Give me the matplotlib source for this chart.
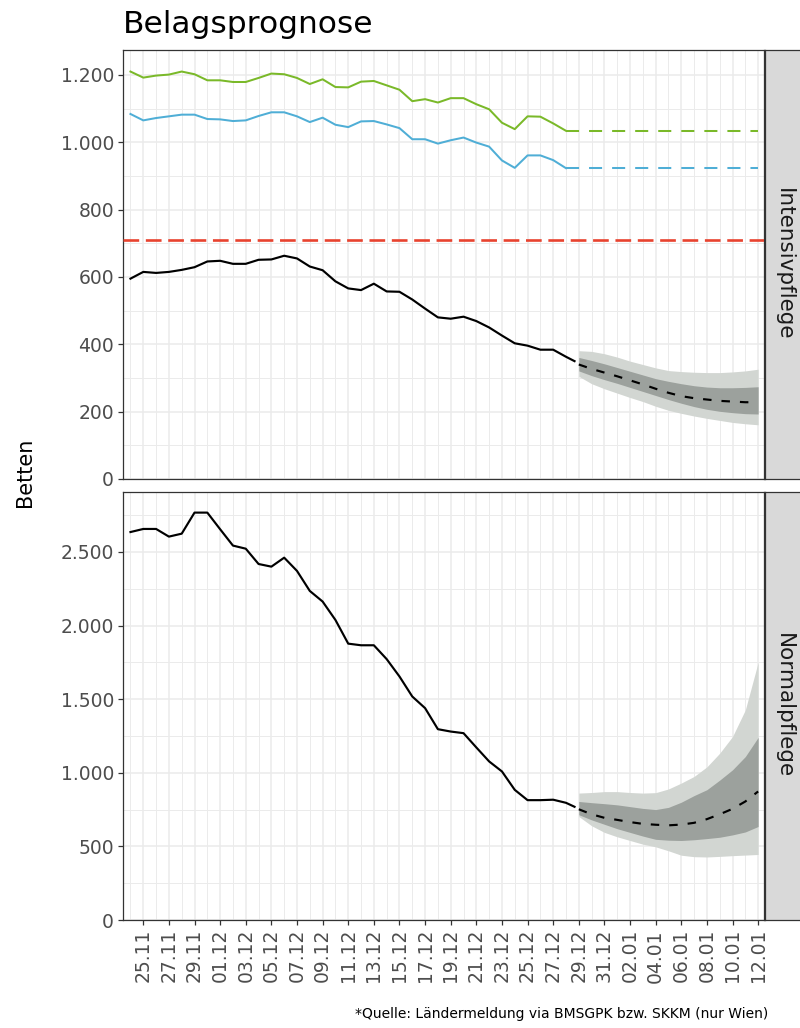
import matplotlib
matplotlib.use("Agg")
import matplotlib.pyplot as plt
import matplotlib.dates as mdates
import matplotlib.ticker as mticker
import pandas as pd
import numpy as np

plt.rcParams['font.family'] = ['DejaVu Sans']
plt.rcParams['lines.scale_dashes'] = False

# ---------------- data ----------------
obs_dates = pd.date_range('2021-11-24', '2021-12-28', freq='D')
fc_dates = pd.date_range('2021-12-29', '2022-01-12', freq='D')
black_last_time = pd.Timestamp('2021-12-28 16:00')
cap_end = pd.Timestamp('2022-01-12')

icu_obs = [595, 615, 612, 615, 621, 629, 646, 648, 639, 639, 651, 652, 663, 655,
           631, 620, 587, 566, 561, 580, 557, 556, 533, 506, 480, 476, 482, 469,
           450, 426, 403, 396, 384, 384, 363]
icu_last = 350

icu_cap_green = [1210, 1192, 1198, 1201, 1210, 1202, 1184, 1184, 1179, 1179, 1191,
                 1204, 1202, 1191, 1173, 1187, 1164, 1163, 1180, 1182, 1169, 1156,
                 1122, 1128, 1118, 1131, 1131, 1113, 1098, 1058, 1039, 1077, 1076,
                 1056, 1034]
icu_cap_blue = [1084, 1065, 1072, 1077, 1082, 1082, 1069, 1068, 1063, 1065, 1078,
                1089, 1089, 1077, 1060, 1073, 1052, 1045, 1062, 1063, 1053, 1042,
                1009, 1009, 996, 1006, 1014, 999, 987, 946, 924, 961, 961, 947, 923]
icu_threshold = 709

icu_med = [340, 327, 316, 305, 293, 281, 268, 256, 246, 240, 236, 232, 230, 228, 228]
icu_outer_hi = [381, 379, 372, 362, 350, 340, 330, 322, 319, 317, 316, 316, 318, 321, 326]
icu_outer_lo = [305, 283, 268, 255, 242, 230, 216, 204, 195, 187, 180, 174, 168, 164, 161]
icu_inner_hi = [361, 352, 342, 331, 320, 309, 298, 290, 283, 277, 273, 271, 271, 272, 274]
icu_inner_lo = [321, 307, 295, 284, 272, 260, 248, 236, 225, 215, 207, 201, 197, 194, 193]

nor_obs = [2635, 2656, 2656, 2604, 2624, 2767, 2767, 2654, 2543, 2522, 2418, 2400,
           2461, 2371, 2235, 2163, 2038, 1877, 1866, 1866, 1772, 1654, 1518, 1439,
           1296, 1280, 1269, 1172, 1077, 1009, 884, 814, 814, 817, 796]
nor_last = 769

nor_med = [752, 718, 694, 680, 665, 653, 647, 643, 648, 660, 685, 718, 755, 805, 873]
nor_outer_hi = [862, 866, 872, 872, 866, 862, 865, 890, 930, 975, 1040, 1133, 1246, 1427, 1750]
nor_outer_lo = [703, 640, 595, 565, 540, 515, 497, 470, 440, 430, 428, 432, 437, 441, 445]
nor_inner_hi = [805, 797, 790, 782, 770, 758, 750, 765, 800, 845, 885, 950, 1020, 1110, 1240]
nor_inner_lo = [715, 680, 650, 620, 595, 570, 548, 542, 540, 545, 553, 562, 578, 598, 635]

panel_labels = ['Intensivpflege', 'Normalpflege']
title = 'Belagsprognose'
ylabel = 'Betten'
caption = '*Quelle: Ländermeldung via BMSGPK bzw. SKKM (nur Wien)'

# ---------------- style ----------------
GREEN = '#7AB929'
BLUE = '#4FAED6'
RED = '#E8432F'
OUTER = '#D2D6D2'
INNER = '#9CA19D'
GRID = '#EBEBEB'
BORDER = '#333333'
TICKC = '#4D4D4D'

W, H = 800, 1028
fig = plt.figure(figsize=(W / 100, H / 100), dpi=100)

def fx(px):
    return px / W

def fy(py):
    return 1 - py / H

left, right = 123, 764
panels = [(50, 479), (492, 920)]
axes = []
for (top, bot) in panels:
    ax = fig.add_axes([fx(left), fy(bot), fx(right - left), (bot - top) / H])
    axes.append(ax)

xmin = mdates.date2num(pd.Timestamp('2021-11-23 10:00'))
xmax = mdates.date2num(pd.Timestamp('2022-01-12 11:00'))

major_dates = pd.date_range('2021-11-25', '2022-01-12', freq='2D')
minor_dates = pd.date_range('2021-11-24', '2022-01-13', freq='2D')

def style_axis(ax, ymax, ymajor, yminor, show_x):
    ax.set_xlim(xmin, xmax)
    ax.set_ylim(0, ymax)
    ax.xaxis.set_major_locator(mticker.FixedLocator(mdates.date2num(major_dates)))
    ax.xaxis.set_minor_locator(mticker.FixedLocator(mdates.date2num(minor_dates)))
    ax.yaxis.set_major_locator(mticker.MultipleLocator(ymajor))
    ax.yaxis.set_minor_locator(mticker.MultipleLocator(yminor))
    ax.yaxis.set_major_formatter(mticker.FuncFormatter(
        lambda v, p: f"{int(round(v)):,}".replace(',', '.')))
    ax.grid(which='major', color=GRID, lw=1.1, zorder=0)
    ax.grid(which='minor', color=GRID, lw=0.7, zorder=0)
    ax.set_axisbelow(True)
    for s in ax.spines.values():
        s.set_color(BORDER)
        s.set_linewidth(0.9)
    ax.tick_params(axis='y', which='major', length=3.5, width=0.9, color=BORDER,
                   labelsize=13.5, labelcolor=TICKC, pad=3)
    ax.tick_params(which='minor', length=0)
    if show_x:
        ax.xaxis.set_major_formatter(mdates.DateFormatter('%d.%m'))
        ax.tick_params(axis='x', which='major', length=3.5, width=0.9, color=BORDER,
                       labelsize=13.5, labelcolor=TICKC, labelrotation=90, pad=3)
    else:
        ax.tick_params(axis='x', which='major', length=0, labelbottom=False)

ax1, ax2 = axes
style_axis(ax1, 1274, 200, 100, False)
style_axis(ax2, 2907, 500, 250, True)

obs_x = list(obs_dates) + [black_last_time]

# top panel
ax1.axhline(icu_threshold, color=RED, lw=1.9, dashes=(11.3, 4.8), zorder=3)
ax1.plot(obs_dates, icu_cap_green, color=GREEN, lw=1.45, zorder=3)
ax1.plot(obs_dates, icu_cap_blue, color=BLUE, lw=1.45, zorder=3)
ax1.plot([obs_dates[-1], cap_end], [icu_cap_green[-1], icu_cap_green[-1]],
         color=GREEN, lw=1.45, dashes=(9.4, 7.2), zorder=3)
ax1.plot([obs_dates[-1], cap_end], [icu_cap_blue[-1], icu_cap_blue[-1]],
         color=BLUE, lw=1.45, dashes=(9.4, 7.2), zorder=3)
ax1.fill_between(fc_dates, icu_outer_lo, icu_outer_hi, color=OUTER, lw=0, zorder=2)
ax1.fill_between(fc_dates, icu_inner_lo, icu_inner_hi, color=INNER, lw=0, zorder=2)
ax1.plot(obs_x, icu_obs + [icu_last], color='black', lw=1.55, zorder=4)
ax1.plot(fc_dates, icu_med, color='black', lw=1.55, dashes=(6.1, 7.2), zorder=4)

# bottom panel
ax2.fill_between(fc_dates, nor_outer_lo, nor_outer_hi, color=OUTER, lw=0, zorder=2)
ax2.fill_between(fc_dates, nor_inner_lo, nor_inner_hi, color=INNER, lw=0, zorder=2)
ax2.plot(obs_x, nor_obs + [nor_last], color='black', lw=1.55, zorder=4)
ax2.plot(fc_dates, nor_med, color='black', lw=1.55, dashes=(6.1, 7.2), zorder=4)

# strips
for (top, bot), lab in zip(panels, panel_labels):
    sax = fig.add_axes([fx(right + 1), fy(bot), fx(W - right - 1) + 0.01, (bot - top) / H])
    sax.set_facecolor('#D9D9D9')
    sax.set_xticks([])
    sax.set_yticks([])
    for s in sax.spines.values():
        s.set_color(BORDER)
        s.set_linewidth(0.9)
    sax.text(0.44, 0.5, lab, rotation=-90, ha='center', va='center',
             fontsize=15.5, color='#1A1A1A', transform=sax.transAxes)

fig.text(fx(left), fy(33), title, fontsize=22.5, color='black', ha='left', va='baseline')
fig.text(fx(25), fy(472), ylabel, fontsize=15, rotation=90, ha='center', va='center', color='black')
fig.text(fx(768), fy(1018), caption, fontsize=10, ha='right', va='baseline', color='black')

fig.savefig('out.png', dpi=100)
